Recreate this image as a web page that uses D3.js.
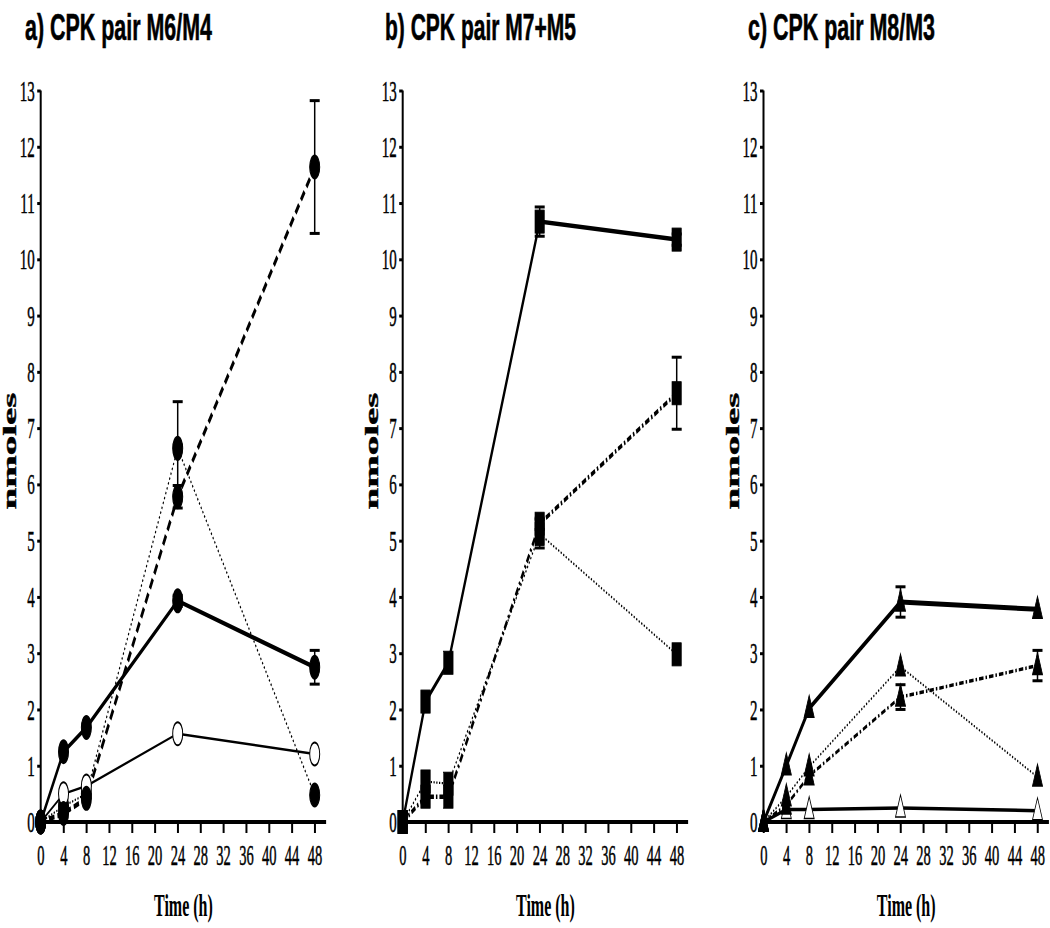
<!DOCTYPE html>
<html><head><meta charset="utf-8">
<script src="https://cdn.jsdelivr.net/npm/d3@7"></script>
<style>html,body{margin:0;padding:0;background:#fff;}</style>
</head><body>
<script>
// ---- data ----
const hours = [0, 4, 8, 24, 48];
const xTickValues = [0, 4, 8, 12, 16, 20, 24, 28, 32, 36, 40, 44, 48];
const yTickValues = [0, 1, 2, 3, 4, 5, 6, 7, 8, 9, 10, 11, 12, 13];
const panelTitles = ["a) CPK pair M6/M4", "b) CPK pair M7+M5", "c) CPK pair M8/M3"];
const xLabel = "Time (h)";
const yLabel = "nmoles";

// panel a (circles)
const aSolidFilled = [0, 1.25, 1.68, 3.93, 2.75];
const aSolidFilledErr = [0, 0, 0, 0.1, 0.3];
const aOpen = [0, 0.5, 0.64, 1.57, 1.21];
const aOpenErr = [0, 0, 0, 0, 0];
const aDashed = [0, 0.15, 0.42, 5.78, 11.64];
const aDashedErr = [0, 0, 0, 0.2, 1.18];
const aDotted = [0, 0.28, 0.5, 6.64, 0.48];
const aDottedErr = [0, 0, 0, 0.83, 0];

// panel b (squares)
const bSolid = [0, 2.14, 2.83, 10.67, 10.35];
const bSolidErr = [0, 0, 0, 0.26, 0.1];
const bDashed = [0, 0.45, 0.45, 5.3, 7.62];
const bDashedErr = [0, 0, 0, 0.1, 0.64];
const bDotted = [0, 0.72, 0.68, 5.12, 2.98];
const bDottedErr = [0, 0, 0, 0.25, 0];

// panel c (triangles)
const cSolid = [0, 1.0, 2.02, 3.91, 3.78];
const cSolidErr = [0, 0, 0, 0.27, 0];
const cDashed = [0, 0.3, 0.82, 2.22, 2.78];
const cDashedErr = [0, 0, 0, 0.22, 0.27];
const cDotted = [0, 0.45, 0.98, 2.76, 0.8];
const cDottedErr = [0, 0, 0, 0, 0];
const cOpen = [0, 0.22, 0.22, 0.25, 0.2];
const cOpenErr = [0, 0, 0, 0, 0];

// ---- layout ----
const W = 1050, H = 928, SX = 0.5;
const axisX = [40.7, 402.7, 763.5];      // y-axis positions (screen px)
const plotW48 = 274;                     // px from 0h to 48h
const yTop = 90.5, yBot = 822;
const titleX = [25, 385, 748];
const titleW = [187, 191, 187];

const styles = {
  thick:  {w: 4.5, dash: null},
  thin:   {w: 2.5, dash: null},
  dashA:  {w: 5, dash: "11,6"},
  dashDot:{w: 4.5, dash: "9,4,3,4"},
  dotted: {w: 2.2, dash: "2.5,3"}
};

const panels = [
  {series: [
    {v: aDotted, e: aDottedErr, st: "dotted", m: "circle", fill: "#000"},
    {v: aOpen, e: aOpenErr, st: "thin", m: "circle", fill: "#fff"},
    {v: aSolidFilled, e: aSolidFilledErr, st: "thick", m: "circle", fill: "#000"},
    {v: aDashed, e: aDashedErr, st: "dashA", m: "circle", fill: "#000"}
  ]},
  {series: [
    {v: bDotted, e: bDottedErr, st: "dotted", m: "square", fill: "#000"},
    {v: bDashed, e: bDashedErr, st: "dashDot", m: "square", fill: "#000"},
    {v: bSolid, e: bSolidErr, st: "thick", m: "square", fill: "#000"}
  ]},
  {series: [
    {v: cOpen, e: cOpenErr, st: "thin", m: "triangle", fill: "#fff", w: 3.5},
    {v: cDotted, e: cDottedErr, st: "dotted", m: "triangle", fill: "#000"},
    {v: cDashed, e: cDashedErr, st: "dashDot", m: "triangle", fill: "#000", w: 3.5},
    {v: cSolid, e: cSolidErr, st: "thick", m: "triangle", fill: "#000", w: 5}
  ]}
];

const svg = d3.select("body").append("svg").attr("width", W).attr("height", H)
  .style("background", "#fff");
const root = svg.append("g").attr("transform", `scale(${SX},1)`);

const y = d3.scaleLinear().domain([0, 13]).range([yBot, yTop]);

panels.forEach((p, i) => {
  const x0 = axisX[i] / SX;
  const x = d3.scaleLinear().domain([0, 50]).range([x0, x0 + (plotW48 * 50 / 48) / SX]);
  const g = root.append("g");

  // title: condensed to the reference width
  const t = svg.append("text").attr("font-family", "Liberation Sans, Arial, sans-serif")
    .attr("font-weight", "bold").attr("font-size", 37)
    .attr("stroke", "#000").attr("stroke-width", 0.6)
    .text(panelTitles[i]);
  const len = t.node().getComputedTextLength();
  t.attr("transform", `translate(${titleX[i]},40) scale(${titleW[i] / len},1)`);

  // y axis
  const yAxis = d3.axisLeft(y).tickValues(yTickValues).tickSize(7).tickPadding(5).tickFormat(d3.format("d"));
  const ya = g.append("g").attr("transform", `translate(${x0},0)`).call(yAxis);
  ya.select(".domain").attr("d", `M0,${y(13)}V${y(0)}`).attr("stroke", "#000").attr("stroke-width", 4);
  ya.selectAll(".tick line").attr("stroke", "#000").attr("stroke-width", 3);
  ya.selectAll(".tick text").attr("font-family", "Liberation Serif, Times New Roman, serif")
    .attr("font-size", 30).attr("fill", "#000").attr("stroke", "#000").attr("stroke-width", 0.5);

  // x axis
  const xAxis = d3.axisBottom(x).tickValues(xTickValues).tickSize(11).tickPadding(11).tickFormat(d3.format("d"));
  const xa = g.append("g").attr("transform", `translate(0,${yBot})`).call(xAxis);
  xa.select(".domain").attr("d", `M${x0},0H${x(50)}`).attr("stroke", "#000").attr("stroke-width", 4);
  xa.selectAll(".tick line").attr("stroke", "#000").attr("stroke-width", 4);
  xa.selectAll(".tick text").attr("font-family", "Liberation Serif, Times New Roman, serif")
    .attr("font-size", 29).attr("fill", "#000").attr("stroke", "#000").attr("stroke-width", 0.5);

  // axis labels
  g.append("text").attr("x", (x0 + x(50)) / 2).attr("y", 916)
    .attr("text-anchor", "middle").attr("font-family", "Liberation Serif, Times New Roman, serif")
    .attr("font-weight", "bold").attr("font-size", 32).text(xLabel);
  g.append("text").attr("transform", `translate(${x0 - 24.5 / SX},451) rotate(-90)`)
    .attr("text-anchor", "middle").attr("font-family", "Liberation Serif, Times New Roman, serif")
    .attr("font-weight", "bold").attr("font-size", 39)
    .attr("stroke", "#000").attr("stroke-width", 0.8).text(yLabel);

  const line = d3.line().x((d, k) => x(hours[k])).y(d => y(d));

  // lines
  p.series.forEach(s => {
    const st = styles[s.st];
    g.append("path").attr("d", line(s.v)).attr("fill", "none").attr("stroke", "#000")
      .attr("stroke-width", s.w || st.w).attr("stroke-dasharray", st.dash);
  });
  // error bars
  p.series.forEach(s => {
    s.v.forEach((v, k) => {
      const e = s.e[k];
      if (!e) return;
      const cx = x(hours[k]);
      g.append("line").attr("x1", cx).attr("x2", cx).attr("y1", y(v - e)).attr("y2", y(v + e))
        .attr("stroke", "#000").attr("stroke-width", 3);
      [v - e, v + e].forEach(tv => {
        g.append("line").attr("x1", cx - 10).attr("x2", cx + 10).attr("y1", y(tv)).attr("y2", y(tv))
          .attr("stroke", "#000").attr("stroke-width", 3);
      });
    });
  });
  // markers
  p.series.forEach(s => {
    s.v.forEach((v, k) => {
      const cx = x(hours[k]), cy = y(v);
      if (s.m === "circle") {
        g.append("ellipse").attr("cx", cx).attr("cy", cy).attr("rx", 10).attr("ry", 11.5)
          .attr("fill", s.fill).attr("stroke", "#000").attr("stroke-width", 2);
      } else if (s.m === "square") {
        g.append("rect").attr("x", cx - 9.5).attr("y", cy - 11.5).attr("width", 19).attr("height", 23)
          .attr("fill", s.fill).attr("stroke", "#000").attr("stroke-width", 1);
      } else {
        g.append("path").attr("d", `M${cx},${cy - 13}L${cx + 10},${cy + 9}L${cx - 10},${cy + 9}Z`)
          .attr("fill", s.fill).attr("stroke", "#000").attr("stroke-width", 1.5);
      }
    });
  });
});
</script>
</body></html>
